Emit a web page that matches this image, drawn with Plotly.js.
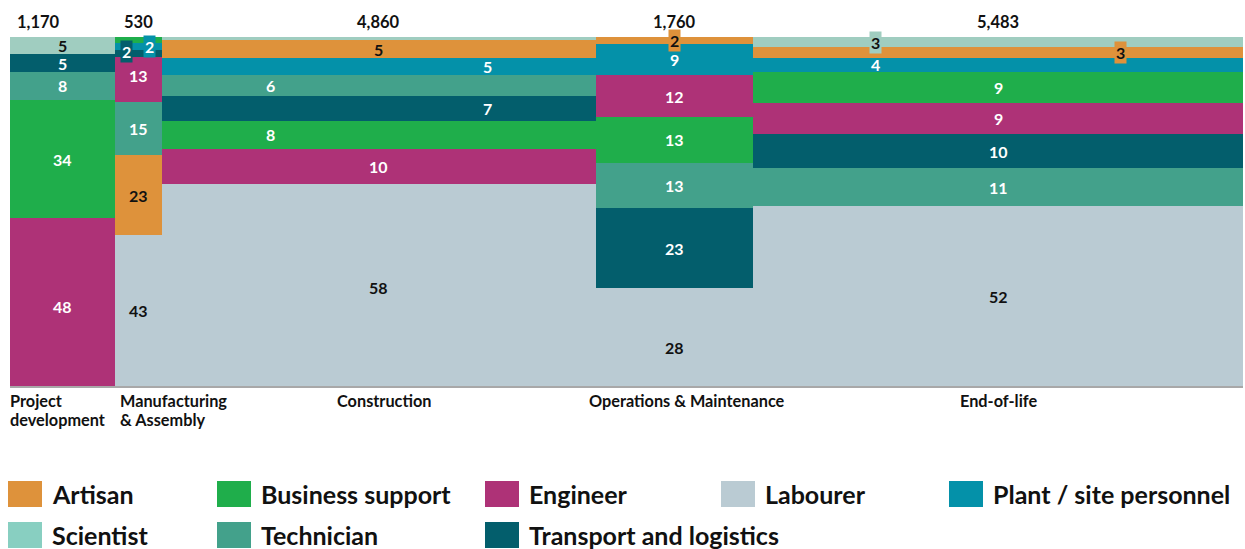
<!DOCTYPE html>
<html>
<head>
<meta charset="utf-8">
<script src="https://cdn.plot.ly/plotly-3.0.1.min.js"></script>
<style>
  html, body { margin: 0; padding: 0; background: #ffffff; }
  #chart { width: 1245px; height: 549px; }
</style>
</head>
<body>
<div id="chart"></div>
<script>
// ---------------- DATA ----------------
const categories = ['Artisan', 'Business support', 'Engineer', 'Labourer',
  'Plant / site personnel', 'Scientist', 'Technician', 'Transport and logistics'];
const stages = ['Project<br>development', 'Manufacturing<br>& Assembly', 'Construction',
  'Operations & Maintenance', 'End-of-life'];
const stageTotals = [1170, 530, 4860, 1760, 5483];
const stageTotalLabels = ['1,170', '530', '4,860', '1,760', '5,483'];

// share (%) of each category per stage (order of stages above)
const artisan    = [0, 23, 5, 2, 3];
const business   = [34, 1.7, 8, 13, 9];
const engineer   = [48, 13, 10, 12, 9];
const labourer   = [0, 43, 58, 28, 52];
const plant      = [0, 2, 5, 9, 4];
const scientist  = [5, 0, 1, 0, 3];
const technician = [8, 15, 6, 13, 11];
const transport  = [5, 2, 7, 23, 10];

// stacking order per stage, bottom to top
const stackOrder = [
  ['Engineer', 'Business support', 'Technician', 'Transport and logistics', 'Scientist'],
  ['Labourer', 'Artisan', 'Technician', 'Engineer', 'Transport and logistics', 'Plant / site personnel', 'Business support'],
  ['Labourer', 'Engineer', 'Business support', 'Transport and logistics', 'Technician', 'Plant / site personnel', 'Artisan', 'Scientist'],
  ['Labourer', 'Transport and logistics', 'Technician', 'Business support', 'Engineer', 'Plant / site personnel', 'Artisan'],
  ['Labourer', 'Technician', 'Transport and logistics', 'Engineer', 'Business support', 'Plant / site personnel', 'Artisan', 'Scientist']
];

// ---------------- STYLE ----------------
const seriesValues = {
  'Artisan': artisan, 'Business support': business, 'Engineer': engineer,
  'Labourer': labourer, 'Plant / site personnel': plant, 'Scientist': scientist,
  'Technician': technician, 'Transport and logistics': transport
};
const colors = {
  'Artisan': '#DE923B', 'Business support': '#1FAE4B', 'Engineer': '#AE3277',
  'Labourer': '#BACBD3', 'Plant / site personnel': '#0491A9', 'Scientist': '#A0CDC0',
  'Technician': '#43A18B', 'Transport and logistics': '#035E6C'
};
const legendColors = Object.assign({}, colors, { 'Scientist': '#88CFC1' });
const darkText = { 'Artisan': true, 'Labourer': true, 'Scientist': true };
// horizontal label position within a column (fraction of column width); default 0.5
const labelPos = {
  '1|Transport and logistics': 0.26, '1|Plant / site personnel': 0.74,
  '2|Business support': 0.25, '2|Technician': 0.25,
  '2|Transport and logistics': 0.75, '2|Plant / site personnel': 0.75,
  '4|Plant / site personnel': 0.25, '4|Scientist': 0.25, '4|Artisan': 0.75
};
// small vertical pixel nudges of labels
const labelNudge = { '3|Labourer': -10, '1|Engineer': 4, '2|Labourer': -3, '0|Engineer': -4, '1|Transport and logistics': 2 };
const FONT = 'Lato, "Open Sans", sans-serif';

// ---------------- BUILD ----------------
const grand = stageTotals.reduce((a, b) => a + b, 0);
const starts = [];
let acc = 0;
stageTotals.forEach(t => { starts.push(acc); acc += t; });

const traces = [];
const annotations = [];

stages.forEach((stage, s) => {
  const order = stackOrder[s];
  const colSum = order.reduce((a, c) => a + seriesValues[c][s], 0);
  const center = starts[s] + stageTotals[s] / 2;
  let cum = 0;
  order.forEach(cat => {
    const v = seriesValues[cat][s];
    traces.push({
      type: 'bar',
      x: [center],
      y: [v],
      width: [stageTotals[s]],
      name: cat,
      legendgroup: cat,
      showlegend: false,
      marker: { color: colors[cat], line: { width: 0 } },
      hovertemplate: stage.replace('<br>', ' ') + '<br>' + cat + ': %{y}%<extra></extra>'
    });
    const mid = (cum + v / 2) / colSum * 100;
    cum += v;
    if (v >= 2) {
      const key = s + '|' + cat;
      const frac = labelPos[key] !== undefined ? labelPos[key] : 0.5;
      const ann = {
        x: starts[s] + frac * stageTotals[s], y: mid, xref: 'x', yref: 'y',
        yshift: labelNudge[key] || 0,
        text: String(Math.round(v)), showarrow: false,
        font: { family: FONT, size: 16, weight: 700, color: darkText[cat] ? '#111111' : '#ffffff' }
      };
      if (v <= 3) { ann.bgcolor = colors[cat]; ann.borderpad = 1; }
      annotations.push(ann);
    }
  });

  // totals above columns
  annotations.push({
    x: center, y: 1, xref: 'x', yref: 'paper', yanchor: 'bottom', yshift: 3,
    xshift: s === 0 ? -24 : 0,
    text: stageTotalLabels[s], showarrow: false,
    font: { family: FONT, size: 16.5, weight: 700, color: '#111111' }
  });
});

// stage labels below the axis (one annotation per text line for tight line spacing)
const stageLabelSpec = [
  { x: starts[0], anchor: 'left', shift: -2 },
  { x: starts[1], anchor: 'left', shift: 3 },
  { x: starts[2] + stageTotals[2] / 2, anchor: 'center', shift: 5 },
  { x: starts[3] + stageTotals[3] / 2, anchor: 'center', shift: 12 },
  { x: starts[4] + stageTotals[4] / 2, anchor: 'center', shift: 0 }
];
stages.forEach((stage, s) => {
  const sp = stageLabelSpec[s];
  stage.split('<br>').forEach((line, li) => {
    annotations.push({
      x: sp.x, y: 0, xref: 'x', yref: 'paper', xanchor: sp.anchor, yanchor: 'top',
      xshift: sp.shift, yshift: -3 - li * 19, align: 'left',
      text: line, showarrow: false,
      font: { family: FONT, size: 16.3, weight: 700, color: '#111111' }
    });
  });
});

// manual legend (pixel layout converted to paper coords)
const W = 1245, H = 549;
const M = { l: 10, r: 2, t: 37, b: 163 };
const pw = W - M.l - M.r, ph = H - M.t - M.b;
const px2x = px => (px - M.l) / pw;
const py2y = py => (H - M.b - py) / ph;
const legendCols = [8, 217, 485, 721, 949];
const legendRows = [481, 522];
const shapes = [];
categories.forEach((cat, i) => {
  const col = i % 5, row = Math.floor(i / 5);
  const sx = legendCols[col], sy = legendRows[row];
  shapes.push({
    type: 'rect', xref: 'paper', yref: 'paper',
    x0: px2x(sx), x1: px2x(sx + 34), y0: py2y(sy + 26), y1: py2y(sy),
    fillcolor: legendColors[cat], line: { width: 0 }
  });
  annotations.push({
    xref: 'paper', yref: 'paper', x: px2x(sx + 42), y: py2y(sy + 13),
    xanchor: 'left', yanchor: 'middle', text: cat, showarrow: false,
    font: { family: FONT, size: 25, weight: 700, color: '#111111' }
  });
});

const layout = {
  width: W, height: H,
  margin: M,
  paper_bgcolor: '#ffffff', plot_bgcolor: '#ffffff',
  barmode: 'stack', barnorm: 'percent',
  showlegend: false,
  xaxis: {
    range: [0, grand], showgrid: false, zeroline: false, showticklabels: false,
    ticks: '', showline: true, linecolor: '#A8A8A8', linewidth: 2, fixedrange: true
  },
  yaxis: {
    range: [0, 100], showgrid: false, zeroline: false, showticklabels: false,
    ticks: '', showline: false, fixedrange: true
  },
  annotations: annotations,
  shapes: shapes
};

Plotly.newPlot('chart', traces, layout, { displayModeBar: false, staticPlot: false });
</script>
</body>
</html>
